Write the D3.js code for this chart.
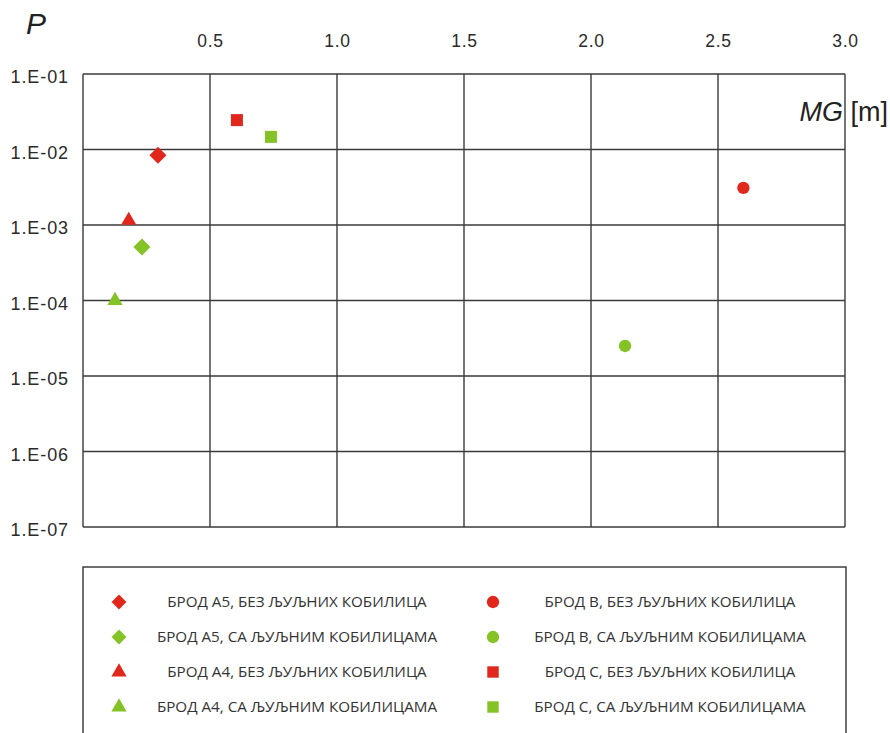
<!DOCTYPE html>
<html>
<head>
<meta charset="utf-8">
<script src="https://cdn.jsdelivr.net/npm/d3@7"></script>
<style>
  html, body { margin: 0; padding: 0; background: #fff; }
  svg { display: block; }
</style>
</head>
<body>
<svg id="chart" width="890" height="733"></svg>
<script>
// Series: ship / bilge-keel configuration, metacentric height MG [m] and probability P
const seriesNames = [
  "БРОД А5, БЕЗ ЉУЉНИХ КОБИЛИЦА",
  "БРОД А5, СА ЉУЉНИМ КОБИЛИЦАМА",
  "БРОД А4, БЕЗ ЉУЉНИХ КОБИЛИЦА",
  "БРОД А4, СА ЉУЉНИМ КОБИЛИЦАМА",
  "БРОД В, БЕЗ ЉУЉНИХ КОБИЛИЦА",
  "БРОД В, СА ЉУЉНИМ КОБИЛИЦАМА",
  "БРОД С, БЕЗ ЉУЉНИХ КОБИЛИЦА",
  "БРОД С, СА ЉУЉНИМ КОБИЛИЦАМА"
];
const mgValues = [0.295, 0.232, 0.18, 0.126, 2.60, 2.134, 0.606, 0.74];
const pValues  = [8.4e-3, 5.1e-4, 1.15e-3, 1.0e-4, 3.1e-3, 2.5e-5, 2.45e-2, 1.47e-2];
const seriesShapes = ["diamond", "diamond", "triangle", "triangle", "circle", "circle", "square", "square"];
const seriesColors = ["#e1261c", "#84c225", "#e1261c", "#84c225", "#e1261c", "#84c225", "#e1261c", "#84c225"];

const xTicks = [0.5, 1.0, 1.5, 2.0, 2.5, 3.0];
const yTicks = [1e-1, 1e-2, 1e-3, 1e-4, 1e-5, 1e-6, 1e-7];
const yTickLabels = ["1.E-01", "1.E-02", "1.E-03", "1.E-04", "1.E-05", "1.E-06", "1.E-07"];

const svg = d3.select("#chart");
const plot = { left: 83, right: 845, top: 74, bottom: 527 };

const x = d3.scaleLinear().domain([0, 3]).range([plot.left, plot.right]);
const y = d3.scaleLog().domain([1e-7, 1e-1]).range([plot.bottom, plot.top]);

const gridColor = "#3a3a3a";

// grid
const grid = svg.append("g");
grid.selectAll("line.v").data([0].concat(xTicks)).join("line")
  .attr("x1", d => x(d)).attr("x2", d => x(d))
  .attr("y1", plot.top).attr("y2", plot.bottom)
  .attr("stroke", gridColor).attr("stroke-width", 1.4);
grid.selectAll("line.h").data(yTicks).join("line")
  .attr("x1", plot.left).attr("x2", plot.right)
  .attr("y1", d => y(d)).attr("y2", d => y(d))
  .attr("stroke", gridColor).attr("stroke-width", 1.4);

// x axis labels on top
const xAxis = d3.axisTop(x).tickValues(xTicks).tickFormat(d3.format(".1f")).tickSize(0).tickPadding(0);
const gx = svg.append("g").attr("transform", "translate(0,47)").call(xAxis);
gx.select(".domain").remove();
gx.selectAll("text")
  .attr("font-family", "'Liberation Sans', Arial, sans-serif")
  .attr("font-size", 17.5).attr("letter-spacing", 0.8).attr("fill", "#2a2a2a").attr("dy", 0);

// y axis labels on the left
const yAxis = d3.axisLeft(y).tickValues(yTicks)
  .tickFormat((d, i) => yTickLabels[i]).tickSize(0).tickPadding(0);
const gy = svg.append("g").attr("transform", "translate(69,3)").call(yAxis);
gy.select(".domain").remove();
gy.selectAll("text")
  .attr("font-family", "'Liberation Sans', Arial, sans-serif")
  .attr("font-size", 18).attr("letter-spacing", 0.9).attr("fill", "#2a2a2a");

// axis titles
svg.append("text").attr("x", 26).attr("y", 34)
  .attr("font-family", "'Liberation Sans', Arial, sans-serif")
  .attr("font-size", 30).attr("font-style", "italic").attr("fill", "#222").text("P");
const mg = svg.append("text").attr("x", 888).attr("y", 121).attr("text-anchor", "end")
  .attr("font-family", "'Liberation Sans', Arial, sans-serif")
  .attr("font-size", 27).attr("fill", "#222");
mg.append("tspan").attr("font-style", "italic").text("MG");
mg.append("tspan").text(" [m]");

// marker paths
const symbolFor = {
  diamond: d3.symbol().type(d3.symbolSquare).size(144)(),
  square: d3.symbol().type(d3.symbolSquare).size(144)(),
  circle: d3.symbol().type(d3.symbolCircle).size(120)(),
  triangle: d3.symbol().type(d3.symbolTriangle).size(100)()
};
const rotFor = { diamond: 45, square: 0, circle: 0, triangle: 0 };

const points = seriesNames.map((name, i) => ({
  name, mg: mgValues[i], p: pValues[i], shape: seriesShapes[i], color: seriesColors[i]
}));

svg.append("g").selectAll("path").data(points).join("path")
  .attr("d", d => symbolFor[d.shape])
  .attr("transform", d => `translate(${x(d.mg)},${y(d.p)}) rotate(${rotFor[d.shape]})`)
  .attr("fill", d => d.color);

// legend
svg.append("rect").attr("x", 83).attr("y", 567).attr("width", 763).attr("height", 200)
  .attr("fill", "none").attr("stroke", "#333").attr("stroke-width", 1.4);

const legendRows = [602, 637, 672, 707];
const legendCols = [{ mx: 119, tx: 297 }, { mx: 493, tx: 670 }];
const legendSymbol = {
  diamond: d3.symbol().type(d3.symbolSquare).size(110)(),
  square: d3.symbol().type(d3.symbolSquare).size(130)(),
  circle: d3.symbol().type(d3.symbolCircle).size(120)(),
  triangle: d3.symbol().type(d3.symbolTriangle).size(100)()
};
const lg = svg.append("g").selectAll("g").data(points).join("g")
  .attr("transform", (d, i) => `translate(0,${legendRows[i % 4]})`);
lg.append("path")
  .attr("d", d => legendSymbol[d.shape])
  .attr("transform", (d, i) => `translate(${legendCols[Math.floor(i / 4)].mx},0) rotate(${rotFor[d.shape]})`)
  .attr("fill", d => d.color);
lg.append("text")
  .attr("x", (d, i) => legendCols[Math.floor(i / 4)].tx)
  .attr("y", 5)
  .attr("text-anchor", "middle")
  .attr("font-family", "'Open Sans', sans-serif")
  .attr("font-size", 15.2)
  .attr("fill", "#333")
  .text(d => d.name);
</script>
</body>
</html>
